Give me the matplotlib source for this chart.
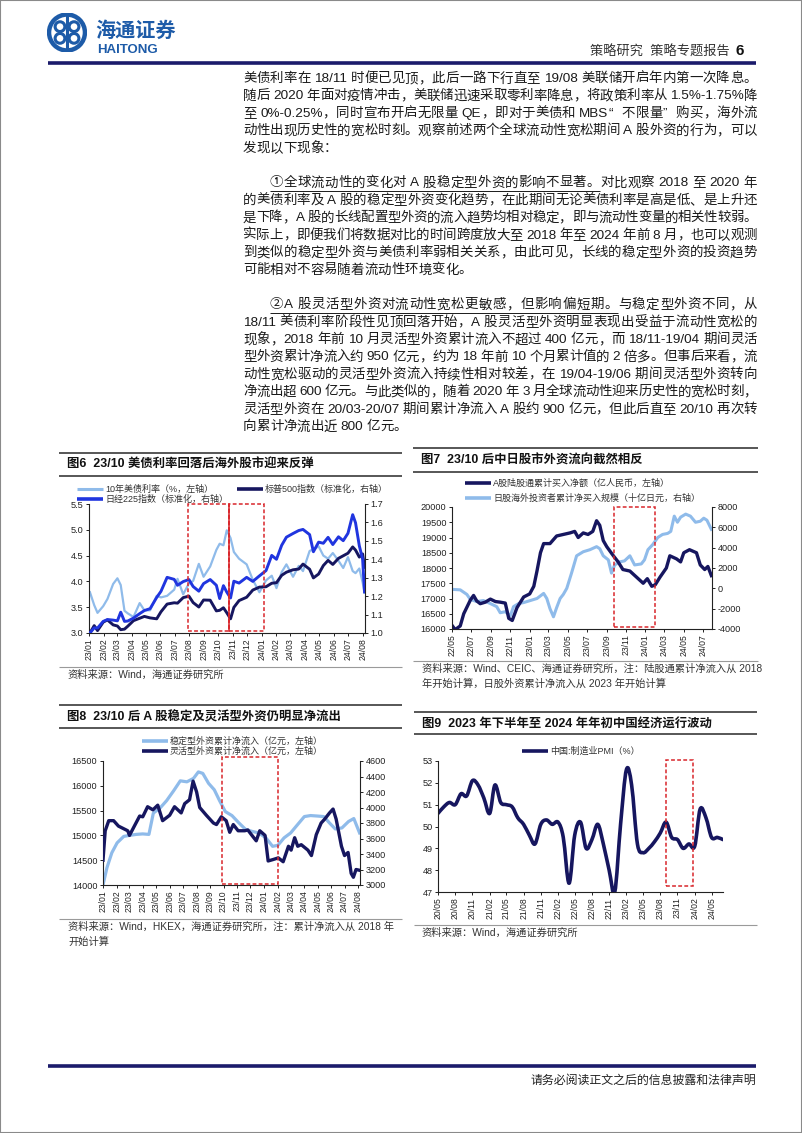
# 海通证券 策略专题报告 第6页：正文 + 图6~图9

import re
import matplotlib
matplotlib.use('Agg')
import matplotlib.pyplot as plt
import matplotlib.dates as mdates
from matplotlib.lines import Line2D
from matplotlib.patches import Rectangle, Circle, PathPatch
from matplotlib.path import Path
from matplotlib.ticker import MultipleLocator, FormatStrFormatter
import pandas as pd

plt.rcParams['font.family'] = ['Liberation Sans', 'Noto Sans CJK SC', 'DejaVu Sans']
plt.rcParams['axes.unicode_minus'] = False

NAVY = '#16165f'
LBLUE = '#8fbbea'
BLUE = '#2035df'
RED = '#d9262b'
INK = '#1a1a1a'

# ---------------- 数据 ----------------
# 图6：10年美债利率(左轴)，标普500、日经225(标准化，右轴)
d6 = ['2023-01-03', '2023-01-12', '2023-01-19', '2023-01-31', '2023-02-09', '2023-02-21',
      '2023-03-02', '2023-03-09', '2023-03-17', '2023-03-24', '2023-04-05', '2023-04-18',
      '2023-04-28', '2023-05-10', '2023-05-24', '2023-06-02', '2023-06-15', '2023-06-30',
      '2023-07-07', '2023-07-19', '2023-07-31', '2023-08-09', '2023-08-21', '2023-08-31',
      '2023-09-14', '2023-09-27', '2023-10-04', '2023-10-12', '2023-10-19', '2023-10-27',
      '2023-11-03', '2023-11-14', '2023-11-30', '2023-12-13', '2023-12-27', '2024-01-10',
      '2024-01-22', '2024-02-01', '2024-02-12', '2024-02-22', '2024-03-07', '2024-03-19',
      '2024-03-28', '2024-04-11', '2024-04-19', '2024-04-30', '2024-05-10', '2024-05-20',
      '2024-05-30', '2024-06-11', '2024-06-21', '2024-07-01', '2024-07-11', '2024-07-17',
      '2024-07-25', '2024-08-01', '2024-08-05']
ust10y = [3.79, 3.54, 3.39, 3.52, 3.66, 3.95, 4.06, 3.93, 3.43, 3.38, 3.31, 3.58,
          3.44, 3.44, 3.72, 3.69, 3.72, 3.84, 4.05, 3.75, 3.96, 4.01, 4.34, 4.09,
          4.29, 4.61, 4.73, 4.70, 4.99, 4.84, 4.57, 4.44, 4.33, 4.03, 3.79, 4.02,
          4.11, 3.87, 4.18, 4.33, 4.09, 4.30, 4.20, 4.59, 4.62, 4.68, 4.50, 4.44,
          4.55, 4.40, 4.26, 4.47, 4.20, 4.16, 4.25, 3.98, 3.78]
spx = [1.000, 1.040, 1.013, 1.059, 1.071, 1.044, 1.038, 1.018, 1.021, 1.037, 1.067, 1.080,
       1.090, 1.082, 1.077, 1.115, 1.157, 1.164, 1.162, 1.192, 1.200, 1.165, 1.141, 1.179,
       1.178, 1.120, 1.123, 1.137, 1.110, 1.077, 1.139, 1.176, 1.194, 1.233, 1.249, 1.251,
       1.270, 1.273, 1.313, 1.330, 1.343, 1.347, 1.374, 1.346, 1.299, 1.320, 1.366, 1.394,
       1.372, 1.405, 1.419, 1.433, 1.467, 1.450, 1.412, 1.429, 1.356]
nky = [1.000, 1.028, 1.027, 1.063, 1.073, 1.070, 1.066, 1.113, 1.063, 1.065, 1.081, 1.105,
       1.122, 1.132, 1.193, 1.226, 1.302, 1.291, 1.259, 1.279, 1.290, 1.252, 1.227, 1.268,
       1.290, 1.259, 1.187, 1.257, 1.222, 1.190, 1.281, 1.271, 1.302, 1.280, 1.310, 1.339,
       1.421, 1.400, 1.476, 1.520, 1.540, 1.556, 1.562, 1.534, 1.441, 1.493, 1.487, 1.519,
       1.480, 1.522, 1.501, 1.541, 1.642, 1.598, 1.473, 1.400, 1.223]

# 图7：A股陆股通累计买入净额(亿人民币，左轴)
d7a = ['2022-05-01', '2022-05-11', '2022-05-27', '2022-06-07', '2022-06-28', '2022-07-08',
       '2022-07-18', '2022-07-29', '2022-08-14', '2022-08-30', '2022-09-15', '2022-09-30',
       '2022-10-16', '2022-10-27', '2022-11-07', '2022-11-22', '2022-12-13', '2023-01-01',
       '2023-01-14', '2023-01-24', '2023-02-04', '2023-02-14', '2023-03-06', '2023-03-27',
       '2023-04-17', '2023-05-08', '2023-05-23', '2023-06-03', '2023-06-19', '2023-07-04',
       '2023-07-19', '2023-07-31', '2023-08-10', '2023-08-21', '2023-09-01', '2023-09-22',
       '2023-10-07', '2023-10-22', '2023-11-13', '2023-12-04', '2023-12-25', '2024-01-07',
       '2024-01-21', '2024-02-01', '2024-02-16', '2024-03-07', '2024-03-18', '2024-04-08',
       '2024-04-21', '2024-05-01', '2024-05-19', '2024-06-10', '2024-06-22', '2024-07-06',
       '2024-07-16', '2024-07-27']
a_north = [16120, 15980, 16100, 16500, 16950, 17100, 16920, 16830, 16880, 16980, 16900, 16880,
           16850, 16350, 16280, 16700, 17050, 17150, 17400, 17900, 18500, 18800, 18800, 19050,
           19100, 19150, 19200, 19000, 19150, 19100, 19200, 19550, 19400, 18900, 18700, 18400,
           18200, 17950, 17900, 17700, 17500, 17650, 17400, 17450, 17700, 18000, 18400, 18300,
           18200, 18500, 18600, 18500, 18100, 17950, 18050, 17750]
# 图7：日股海外投资者累计净买入规模(十亿日元，右轴)
d7j = ['2022-05-01', '2022-05-27', '2022-06-17', '2022-06-28', '2022-07-18', '2022-08-08',
       '2022-08-30', '2022-09-19', '2022-09-30', '2022-10-16', '2022-11-01', '2022-11-11',
       '2022-11-27', '2022-12-13', '2023-01-03', '2023-01-24', '2023-02-14', '2023-02-24',
       '2023-03-06', '2023-03-17', '2023-03-27', '2023-04-07', '2023-04-17', '2023-04-28',
       '2023-05-13', '2023-05-29', '2023-06-19', '2023-07-10', '2023-07-31', '2023-08-10',
       '2023-08-21', '2023-09-06', '2023-09-16', '2023-09-26', '2023-10-12', '2023-10-27',
       '2023-11-13', '2023-11-28', '2023-12-19', '2023-12-29', '2024-01-09', '2024-01-24',
       '2024-02-09', '2024-02-24', '2024-03-11', '2024-03-21', '2024-04-01', '2024-04-11',
       '2024-04-21', '2024-05-07', '2024-05-22', '2024-06-07', '2024-06-22', '2024-07-03',
       '2024-07-13', '2024-07-27']
jp_foreign = [-100, -150, -600, -1100, -1300, -1200, -1500, -1800, -2400, -2300, -2700, -1800,
              -1500, -1400, -1200, -1000, -500, -1000, -2000, -2800, -1900, -1000, -600, 0,
              1500, 3200, 3600, 3800, 4100, 3900, 3200, 2800, 1500, 2300, 2600, 2700,
              3200, 2300, 2400, 2800, 3800, 4300, 5000, 5300, 5400, 5600, 7100, 6500,
              7000, 7300, 7100, 6500, 6600, 6900, 6700, 5800]

# 图8：稳定型外资累计净流入(亿元，左轴)
d8s = ['2023-01-01', '2023-01-10', '2023-01-21', '2023-02-02', '2023-02-17', '2023-03-02',
       '2023-03-17', '2023-04-01', '2023-04-15', '2023-04-25', '2023-05-10', '2023-05-25',
       '2023-06-10', '2023-06-25', '2023-07-10', '2023-07-25', '2023-08-05', '2023-08-15',
       '2023-08-28', '2023-09-10', '2023-09-22', '2023-10-05', '2023-10-20', '2023-11-05',
       '2023-11-20', '2023-12-05', '2023-12-20', '2024-01-05', '2024-01-20', '2024-02-01',
       '2024-02-15', '2024-03-01', '2024-03-15', '2024-04-01', '2024-04-15', '2024-05-01',
       '2024-05-15', '2024-05-28', '2024-06-10', '2024-06-25', '2024-07-10', '2024-07-22',
       '2024-08-04']
stable = [14000, 14350, 14650, 14850, 14980, 15000, 15020, 15030, 15020, 15450, 15550, 15700,
          15900, 16100, 16080, 16150, 16280, 16250, 16050, 15920, 15700, 15480, 15400, 15250,
          15120, 15080, 15050, 14950, 14780, 14800, 14950, 15050, 15200, 15380, 15400, 15390,
          15380, 15250, 15130, 15150, 15280, 15340, 15050]
# 图8：灵活型外资累计净流入(亿元)
d8f = ['2023-01-01', '2023-01-06', '2023-01-14', '2023-01-25', '2023-02-05', '2023-02-19',
       '2023-02-26', '2023-03-02', '2023-03-13', '2023-03-25', '2023-04-01', '2023-04-12',
       '2023-04-24', '2023-05-05', '2023-05-16', '2023-06-01', '2023-06-12', '2023-06-27',
       '2023-07-05', '2023-07-16', '2023-07-24', '2023-08-01', '2023-08-08', '2023-08-23',
       '2023-09-08', '2023-09-15', '2023-09-26', '2023-10-07', '2023-10-15', '2023-10-23',
       '2023-11-03', '2023-11-18', '2023-11-25', '2023-12-03', '2023-12-14', '2023-12-22',
       '2024-01-03', '2024-01-10', '2024-01-22', '2024-02-02', '2024-02-13', '2024-02-25',
       '2024-03-02', '2024-03-10', '2024-03-17', '2024-03-25', '2024-04-09', '2024-04-17',
       '2024-04-28', '2024-05-09', '2024-05-17', '2024-05-28', '2024-06-05', '2024-06-12',
       '2024-06-24', '2024-07-01', '2024-07-09', '2024-07-16', '2024-07-21', '2024-07-27',
       '2024-08-04']
flexible = [3320, 3700, 3830, 3830, 3760, 3720, 3700, 3640, 3760, 3890, 3880, 4010,
            3970, 4030, 3830, 3900, 4010, 3930, 4050, 4100, 4340, 4200, 4000, 3900,
            3800, 3780, 3880, 3830, 3680, 3780, 3700, 3700, 3710, 3650, 3570, 3700,
            3640, 3310, 3330, 3350, 3300, 3500, 3450, 3610, 3500, 3520, 3450, 3380,
            3650, 3800, 3850, 3930, 3980, 3850, 3500, 3380, 3420, 3150, 3100, 3200,
            3190]

# 图9：中国制造业PMI(%)，2020/05-2024/07
pmi_months = pd.date_range('2020-05-01', periods=51, freq='MS')
pmi = [50.6, 50.9, 51.1, 51.0, 51.5, 51.4, 52.1, 51.9,
       51.3, 50.6, 51.9, 51.1, 51.0, 50.9, 50.4, 50.1, 49.6, 49.2, 50.1, 50.3,
       50.1, 50.2, 49.5, 47.4, 49.6, 50.2, 49.0, 49.4, 50.1, 49.2, 48.0, 47.0,
       50.1, 52.6, 51.9, 49.2, 48.8, 49.0, 49.3, 49.7, 50.2, 49.5, 49.4, 49.0,
       49.2, 49.1, 50.8, 50.4, 49.5, 49.5, 49.4]

# ---------------- 画布与工具 ----------------
W, H = 802, 1133
fig = plt.figure(figsize=(W / 100, H / 100), dpi=100)
renderer = fig.canvas.get_renderer()


def fx(x):
    return x / W


def fy(y):
    return 1 - y / H


def hline(x0, x1, y, color='#404040', lw=1.0):
    fig.add_artist(Line2D([fx(x0), fx(x1)], [fy(y), fy(y)], color=color, lw=lw,
                          solid_capstyle='butt'))


def txt(x, y, s, size, **kw):
    kw.setdefault('va', 'center')
    return fig.text(fx(x), fy(y), s, fontsize=size, **kw)


def add_ax(x0, y0, x1, y1):
    return fig.add_axes([x0 / W, 1 - y1 / H, (x1 - x0) / W, (y1 - y0) / H])


# 页面边框
fig.add_artist(Rectangle((0, 0), 1, 1, transform=fig.transFigure, fill=False,
                         ec='#8a8a8a', lw=1.5))

# ---------------- 页眉 ----------------
lax = add_ax(47, 13, 87, 52)
lax.set_xlim(-1, 1)
lax.set_ylim(-1, 1)
lax.set_aspect('equal')
lax.axis('off')
lax.add_patch(Circle((0, 0), 0.92, fc='none', ec='#1d5ba8', lw=3.2))
for cx, cy in [(-0.36, 0.3), (0.36, 0.3), (-0.36, -0.3), (0.36, -0.3)]:
    lax.add_patch(Circle((cx, cy), 0.25, fc='none', ec='#1d5ba8', lw=2.2))
lax.plot([0, 0], [-0.9, 0.9], color='#1d5ba8', lw=2.2)
txt(95, 31, '海通证券', 14.5, color='#1d5ba8', fontweight='bold', fontstyle='italic')
txt(97, 50, 'HAITONG', 9.5, color='#1d5ba8', fontweight='bold')
txt(730, 52, '策略研究  策略专题报告', 9.5, color='#333333', ha='right')
txt(735, 51, '6', 11, color='#111111', fontweight='bold')
hline(48, 756, 63, color='#1b1b6b', lw=2.6)

# ---------------- 正文 ----------------
BODY_FS = 9.7
EM = BODY_FS * 100 / 72
TOK = re.compile(r'[A-Za-z0-9.%/\-]+|.')


def body(s, y, x0=243, x1=757, under=None):
    toks = TOK.findall(s)
    arts, ws = [], []
    for t in toks:
        a = txt(0, y, t, BODY_FS, color=INK)
        arts.append(a)
        if t == ' ':
            ws.append(0.26 * EM)
        elif ord(t[0]) > 0x2000:
            ws.append(EM)
        else:
            ws.append(a.get_window_extent(renderer).width)
    gap = 0.0
    if x1 is not None and len(toks) > 1:
        gap = (x1 - x0 - sum(ws)) / (len(toks) - 1)
    x, ends = x0, []
    for a, w in zip(arts, ws):
        a.set_x(fx(x))
        x += w
        ends.append(x)
        x += gap
    if under:
        k = len(TOK.findall(under))
        hline(x0, ends[k - 1], y + 8, color=INK, lw=0.7)


STEP = 17.4
y = 79
para1 = ['美债利率在 18/11 时便已见顶，此后一路下行直至 19/08 美联储开启年内第一次降息。',
         '随后 2020 年面对疫情冲击，美联储迅速采取零利率降息，将政策利率从 1.5%-1.75%降',
         '至 0%-0.25%，同时宣布开启无限量 QE，即对于美债和 MBS“不限量”购买，海外流',
         '动性出现历史性的宽松时刻。观察前述两个全球流动性宽松期间 A 股外资的行为，可以',
         '发现以下现象：']
para2 = ['①全球流动性的变化对 A 股稳定型外资的影响不显著。对比观察 2018 至 2020 年',
         '的美债利率及 A 股的稳定型外资变化趋势，在此期间无论美债利率是高是低、是上升还',
         '是下降，A 股的长线配置型外资的流入趋势均相对稳定，即与流动性变量的相关性较弱。',
         '实际上，即便我们将数据对比的时间跨度放大至 2018 年至 2024 年前 8 月，也可以观测',
         '到类似的稳定型外资与美债利率弱相关关系，由此可见，长线的稳定型外资的投资趋势',
         '可能相对不容易随着流动性环境变化。']
para3 = ['②A 股灵活型外资对流动性宽松更敏感，但影响偏短期。与稳定型外资不同，从',
         '18/11 美债利率阶段性见顶回落开始，A 股灵活型外资明显表现出受益于流动性宽松的',
         '现象，2018 年前 10 月灵活型外资累计流入不超过 400 亿元，而 18/11-19/04 期间灵活',
         '型外资累计净流入约 950 亿元，约为 18 年前 10 个月累计值的 2 倍多。但事后来看，流',
         '动性宽松驱动的灵活型外资流入持续性相对较差，在 19/04-19/06 期间灵活型外资转向',
         '净流出超 600 亿元。与此类似的，随着 2020 年 3 月全球流动性迎来历史性的宽松时刻，',
         '灵活型外资在 20/03-20/07 期间累计净流入 A 股约 900 亿元，但此后直至 20/10 再次转',
         '向累计净流出近 800 亿元。']
unders = {0: None, 1: '①全球流动性的变化对 A 股稳定型外资的影响不显著。',
          2: '②A 股灵活型外资对流动性宽松更敏感，但影响偏短期。'}
for pi, para in enumerate([para1, para2, para3]):
    for li, line in enumerate(para):
        last = li == len(para) - 1
        first = li == 0 and pi > 0
        body(line, y, x0=270 if first else 243, x1=None if last else 757,
             under=unders[pi] if first else None)
        y += STEP
    y += STEP


# ---------------- 图表工具 ----------------
def frame(x0, x1, ytop, ytitle, yrule2, title):
    hline(x0, x1, ytop, color='#3a3a3a', lw=1.2)
    txt(x0 + 8, ytitle, title, 8.9, color='#111111', fontweight='bold')
    hline(x0, x1, yrule2, color='#3a3a3a', lw=1.2)


def legend_item(x, y, color, label, lw=2.6):
    fig.add_artist(Line2D([fx(x), fx(x + 26)], [fy(y), fy(y)], color=color, lw=lw,
                          solid_capstyle='butt'))
    txt(x + 28, y, label, 6.5, color='#333333')


def source(x0, x1, yrule, x, lines):
    hline(x0, x1, yrule, color='#9a9a9a', lw=0.8)
    for i, s in enumerate(lines):
        txt(x, yrule + 8 + i * 15, s, 7.4, color='#333333')


def style(ax, keep):
    for name, sp in ax.spines.items():
        sp.set_visible(name in keep)
        sp.set_color('#222222')
        sp.set_linewidth(0.8)
    ax.patch.set_visible(False)
    ax.tick_params(labelsize=6.6, length=2.5, width=0.7, colors='#222222', pad=1.5)
    ax.tick_params(axis='x', labelsize=6.2)


def date_x(ax, lo, hi, months):
    ax.set_xlim(pd.Timestamp(lo), pd.Timestamp(hi))
    ax.xaxis.set_major_locator(mdates.MonthLocator(bymonth=months))
    ax.xaxis.set_major_formatter(mdates.DateFormatter('%y/%m'))
    ax.tick_params(axis='x', labelrotation=90)


def box(ax, x0, x1, y0, y1):
    a = mdates.date2num(pd.Timestamp(x0))
    b = mdates.date2num(pd.Timestamp(x1))
    ax.add_patch(Rectangle((a, y0), b - a, y1 - y0, transform=ax.get_xaxis_transform(),
                           fill=False, ec=RED, lw=1.1, ls=(0, (2.5, 1.5)),
                           clip_on=False, zorder=6))


def smooth_line(ax, dates, vals, **kw):
    # 平滑折线（Catmull-Rom 转三次贝塞尔），与 Excel 的“平滑线”效果相近
    xs = list(mdates.date2num(pd.to_datetime(dates)))
    ys = list(vals)
    n = len(xs)
    verts = [(xs[0], ys[0])]
    codes = [Path.MOVETO]
    for i in range(n - 1):
        i0, i3 = max(i - 1, 0), min(i + 2, n - 1)
        c1 = (xs[i] + (xs[i + 1] - xs[i0]) / 6, ys[i] + (ys[i + 1] - ys[i0]) / 6)
        c2 = (xs[i + 1] - (xs[i3] - xs[i]) / 6, ys[i + 1] - (ys[i3] - ys[i]) / 6)
        verts += [c1, c2, (xs[i + 1], ys[i + 1])]
        codes += [Path.CURVE4] * 3
    ax.add_patch(PathPatch(Path(verts, codes), fill=False, **kw))


ALL = list(range(1, 13))

# ---------------- 图6 ----------------
frame(59, 402, 453, 465, 476, '图6  23/10 美债利率回落后海外股市迎来反弹')
legend_item(77, 489, LBLUE, '10年美债利率（%，左轴）', lw=2.2)
legend_item(237, 489, NAVY, '标普500指数（标准化，右轴）')
legend_item(77, 499, BLUE, '日经225指数（标准化，右轴）')
ax = add_ax(89, 504, 365, 633)
ax.plot(pd.to_datetime(d6), ust10y, color=LBLUE, lw=1.6)
ax.set_ylim(3.0, 5.5)
ax.yaxis.set_major_locator(MultipleLocator(0.5))
ax.yaxis.set_major_formatter(FormatStrFormatter('%.1f'))
date_x(ax, '2023-01-01', '2024-08-06', ALL)
style(ax, ['left', 'bottom'])
ax2 = ax.twinx()
ax2.plot(pd.to_datetime(d6), spx, color=NAVY, lw=2.1)
ax2.plot(pd.to_datetime(d6), nky, color=BLUE, lw=2.1)
ax2.set_ylim(1.0, 1.7)
ax2.yaxis.set_major_locator(MultipleLocator(0.1))
ax2.yaxis.set_major_formatter(FormatStrFormatter('%.1f'))
style(ax2, ['right'])
box(ax2, '2023-07-29', '2023-10-23', 0.012, 1.0)
box(ax2, '2023-10-23', '2024-01-05', 0.012, 1.0)
ax2.axvline(pd.Timestamp('2023-10-23'), ymin=0.012, ymax=1.0, color=RED, lw=1.1, zorder=7)
source(59, 402, 667, 67, ['资料来源：Wind，海通证券研究所'])

# ---------------- 图7 ----------------
frame(413, 758, 448, 460, 472, '图7  23/10 后中日股市外资流向截然相反')
legend_item(465, 483, NAVY, 'A股陆股通累计买入净额（亿人民币，左轴）')
legend_item(465, 498, LBLUE, '日股海外投资者累计净买入规模（十亿日元，右轴）')
ax = add_ax(452, 507, 712, 629)
ax.plot(pd.to_datetime(d7a), a_north, color=NAVY, lw=2.4)
ax.set_ylim(16000, 20000)
ax.yaxis.set_major_locator(MultipleLocator(500))
date_x(ax, '2022-05-01', '2024-07-29', [1, 3, 5, 7, 9, 11])
style(ax, ['left', 'bottom'])
ax2 = ax.twinx()
ax2.plot(pd.to_datetime(d7j), jp_foreign, color=LBLUE, lw=2.2)
ax2.set_ylim(-4000, 8000)
ax2.yaxis.set_major_locator(MultipleLocator(2000))
style(ax2, ['right'])
ax.set_zorder(ax2.get_zorder() + 1)
box(ax, '2023-09-25', '2024-01-31', 0.019, 1.0)
source(413, 758, 661, 422, ['资料来源：Wind、CEIC、海通证券研究所，注：陆股通累计净流入从 2018',
                            '年开始计算，日股外资累计净流入从 2023 年开始计算'])

# ---------------- 图8 ----------------
frame(59, 402, 705, 717, 728, '图8  23/10 后 A 股稳定及灵活型外资仍明显净流出')
legend_item(142, 741, LBLUE, '稳定型外资累计净流入（亿元，左轴）')
legend_item(142, 751, NAVY, '灵活型外资累计净流入（亿元，左轴）')
ax = add_ax(103, 761, 360, 885)
ax.plot(pd.to_datetime(d8s), stable, color=LBLUE, lw=2.3)
ax.set_ylim(14000, 16500)
ax.yaxis.set_major_locator(MultipleLocator(500))
date_x(ax, '2023-01-01', '2024-08-05', ALL)
style(ax, ['left', 'bottom'])
ax2 = ax.twinx()
ax2.plot(pd.to_datetime(d8f), flexible, color=NAVY, lw=2.4)
ax2.set_ylim(3000, 4600)
ax2.yaxis.set_major_locator(MultipleLocator(200))
style(ax2, ['right'])
box(ax2, '2023-09-28', '2024-02-01', 0.005, 1.03)
source(59, 402, 919, 68, ['资料来源：Wind，HKEX，海通证券研究所，注：累计净流入从 2018 年',
                          '开始计算'])

# ---------------- 图9 ----------------
frame(414, 757, 712, 724, 734, '图9  2023 年下半年至 2024 年年初中国经济运行波动')
legend_item(522, 751, NAVY, '中国:制造业PMI（%）')
ax = add_ax(438, 761, 723, 892)
smooth_line(ax, pmi_months, pmi, ec=NAVY, lw=2.6, joinstyle='round', capstyle='round')
ax.set_ylim(47, 53)
ax.yaxis.set_major_locator(MultipleLocator(1))
date_x(ax, '2020-05-01', '2024-07-01', [2, 5, 8, 11])
style(ax, ['left', 'bottom'])
box(ax, '2023-09-01', '2024-01-25', 0.043, 1.005)
source(414, 757, 925, 422, ['资料来源：Wind，海通证券研究所'])

# ---------------- 页脚 ----------------
hline(48, 756, 1066, color='#1b1b6b', lw=2.6)
txt(756, 1081, '请务必阅读正文之后的信息披露和法律声明', 8.6, color='#222222', ha='right')

fig.savefig('out.png', dpi=100)
